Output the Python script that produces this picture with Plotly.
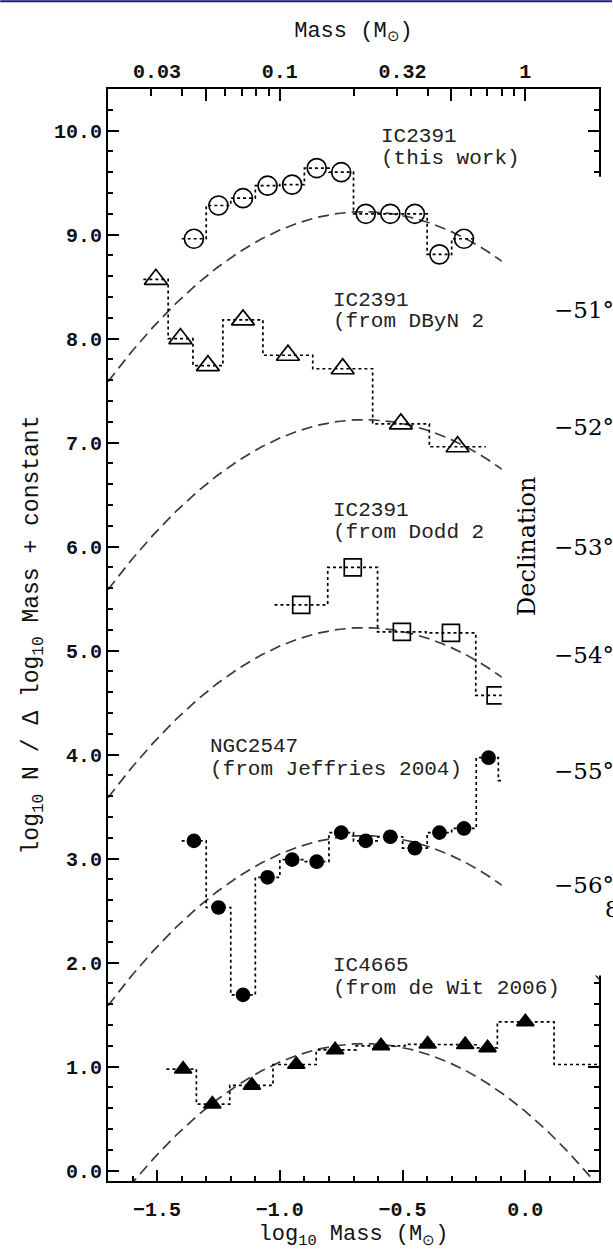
import numpy as np
import plotly.graph_objects as go

# ---------------- data (log10 Mass bins / log10 N per bin + constant) ----------------
# IC2391 (this work) - open circles
ic2391_edges = [-1.40, -1.30, -1.20, -1.10, -1.00, -0.90, -0.80, -0.70, -0.60, -0.50, -0.40, -0.30, -0.20]
ic2391_x = [-1.35, -1.25, -1.15, -1.05, -0.95, -0.85, -0.75, -0.65, -0.55, -0.45, -0.35, -0.25]
ic2391_y = [8.96, 9.28, 9.35, 9.47, 9.48, 9.64, 9.60, 9.20, 9.20, 9.20, 8.81, 8.96]

# IC2391 (from DByN 2004) - open triangles
dbyn_edges = [-1.556, -1.455, -1.354, -1.232, -1.069, -0.866, -0.622, -0.391, -0.161]
dbyn_x = [-1.505, -1.405, -1.293, -1.150, -0.967, -0.744, -0.507, -0.276]
dbyn_y = [8.57, 8.00, 7.74, 8.18, 7.84, 7.71, 7.18, 6.96]

# IC2391 (from Dodd 2004) - open squares
dodd_edges = [-1.022, -0.805, -0.602, -0.405, -0.202, -0.040]
dodd_x = [-0.913, -0.703, -0.503, -0.303, -0.121]
dodd_y = [5.44, 5.80, 5.18, 5.17, 4.57]

# NGC2547 (from Jeffries 2004) - filled circles
ngc_edges = [-1.40, -1.30, -1.20, -1.10, -1.00, -0.90, -0.80, -0.70, -0.60, -0.50, -0.40, -0.30, -0.20, -0.11, 0.00]
ngc_x = [-1.35, -1.25, -1.15, -1.05, -0.95, -0.85, -0.75, -0.65, -0.55, -0.45, -0.35, -0.25, -0.15, -0.05]
ngc_y = [3.17, 2.53, 1.69, 2.82, 2.99, 2.97, 3.25, 3.17, 3.21, 3.10, 3.25, 3.29, 3.97, 3.75]

# IC4665 (from de Wit 2006) - filled triangles
ic4665_edges = [-1.462, -1.340, -1.204, -1.028, -0.852, -0.689, -0.490, -0.320, -0.195, -0.114, 0.117, 0.600]
ic4665_x = [-1.394, -1.275, -1.114, -0.933, -0.775, -0.588, -0.398, -0.245, -0.154, 0.000, 0.360]
ic4665_y = [0.975, 0.64, 0.82, 1.02, 1.16, 1.20, 1.215, 1.21, 1.18, 1.43, 1.02]

# log-normal model curves (dashed), peak levels per cluster
model_peaks = [9.22, 7.22, 5.22, 3.22, 1.22]
model_mc = 0.22
model_sigma = 0.38

# axis ticks
y_ticks = [0, 1, 2, 3, 4, 5, 6, 7, 8, 9, 10]
x_ticks = [-1.5, -1.0, -0.5, 0.0]
top_label_logs = [-1.5, -1.0, -0.5, 0.0]
top_label_text = ["0.03", "0.1", "0.32", "1"]
top_major_mass = [0.05, 0.1, 0.5, 1.0]
top_minor_mass = [0.03, 0.04, 0.06, 0.07, 0.08, 0.09, 0.2, 0.3, 0.4, 0.6, 0.7, 0.8, 0.9]

# overlay (part of another figure pasted over the right side)
dec_labels = ["−51°", "−52°", "−53°", "−54°", "−55°", "−56°"]
dec_label_py = [311, 428, 548, 657, 773, 887]

# ---------------- geometry ----------------
W, H = 613, 1253
ML, MR, MT, MB = 108, 13, 89, 69
PW, PH = W - ML - MR, H - MT - MB
XR = [-1.7, 0.3]
YR = [-0.1, 10.4]


def px2paper(px, py):
    return (px - ML) / PW, (H - MB - py) / PH


MONO = "Liberation Mono"
SERIF = "DejaVu Serif"


def steps(edges, vals):
    xs, ys = [], []
    for i, v in enumerate(vals):
        xs += [edges[i], edges[i + 1]]
        ys += [v, v]
    return xs, ys


fig = go.Figure()

# model curves
xg = np.linspace(XR[0], XR[1], 300)
k = np.log10(np.e) / (2 * model_sigma ** 2)
for p in model_peaks:
    fig.add_trace(go.Scatter(
        x=xg, y=p - k * (xg - np.log10(model_mc)) ** 2, mode="lines",
        line=dict(color="#3a3a3a", width=1.7, dash="11px,6px"),
        showlegend=False, hoverinfo="skip"))

series = [
    (ic2391_edges, ic2391_x, ic2391_y, "circle-open", 19, "IC2391 (this work)"),
    (dbyn_edges, dbyn_x, dbyn_y, "triangle-up-open", 20, "IC2391 (from DByN 2004)"),
    (dodd_edges, dodd_x, dodd_y, "square-open", 17, "IC2391 (from Dodd 2004)"),
    (ngc_edges, ngc_x, ngc_y, "circle", 13, "NGC2547 (from Jeffries 2004)"),
    (ic4665_edges, ic4665_x, ic4665_y, "triangle-up", 15, "IC4665 (from de Wit 2006)"),
]
for edges, xs, ys, sym, size, name in series:
    sx, sy = steps(edges, ys)
    fig.add_trace(go.Scatter(
        x=sx, y=sy, mode="lines",
        line=dict(color="black", width=1.7, dash="3px,3px"),
        showlegend=False, hoverinfo="skip"))
    fig.add_trace(go.Scatter(
        x=xs, y=ys, mode="markers", name=name,
        marker=dict(symbol=sym, size=size, color="black",
                    line=dict(color="black", width=1.7)),
        showlegend=False))

# dummy traces so the top axes render
fig.add_trace(go.Scatter(x=[0.1], y=[None], xaxis="x2", yaxis="y", showlegend=False, hoverinfo="skip"))
fig.add_trace(go.Scatter(x=[0.1], y=[None], xaxis="x3", yaxis="y", showlegend=False, hoverinfo="skip"))

tickfont = dict(family=MONO, size=20, color="#111111", weight="bold")
titlefont = dict(family=MONO, size=22, color="#111111")

fig.update_layout(
    width=W, height=H,
    margin=dict(l=ML, r=MR, t=MT, b=MB),
    paper_bgcolor="white", plot_bgcolor="white",
    showlegend=False,
    xaxis=dict(
        range=XR, tickvals=x_ticks, tickformat=".1f",
        ticks="inside", ticklen=11, tickwidth=1.5, tickcolor="black",
        minor=dict(dtick=0.1, tick0=0, ticks="inside", ticklen=5, tickwidth=1.5, tickcolor="black"),
        showline=True, linewidth=2, linecolor="black", mirror=True,
        showgrid=False, zeroline=False, tickfont=tickfont, ticklabelstandoff=9,
        title=dict(text="log<sub>10</sub> Mass (M<sub>⊙</sub>)", font=titlefont, standoff=4),
    ),
    xaxis2=dict(
        overlaying="x", side="top", anchor="y", type="log",
        range=XR, tickvals=[10 ** v for v in top_label_logs], ticktext=top_label_text,
        ticks="", showline=False, showgrid=False, zeroline=False, tickfont=tickfont,
        ticklabelstandoff=6,
        title=dict(text="Mass (M<sub>⊙</sub>)", font=titlefont, standoff=17),
    ),
    xaxis3=dict(
        overlaying="x", side="top", anchor="y", type="log",
        range=XR, tickvals=top_major_mass, showticklabels=False,
        ticks="inside", ticklen=12, tickwidth=1.5, tickcolor="black",
        minor=dict(tickvals=top_minor_mass, ticks="inside", ticklen=7, tickwidth=1.5, tickcolor="black"),
        showline=False, showgrid=False, zeroline=False,
    ),
    yaxis=dict(
        range=YR, tickvals=y_ticks, tickformat=".1f",
        ticks="inside", ticklen=11, tickwidth=1.5, tickcolor="black",
        minor=dict(dtick=0.2, tick0=0, ticks="inside", ticklen=5, tickwidth=1.5, tickcolor="black"),
        showline=True, linewidth=2, linecolor="black", mirror="ticks",
        showgrid=False, zeroline=False, tickfont=tickfont,
        title=dict(text="log<sub>10</sub> N / Δ log<sub>10</sub> Mass + constant",
                   font=dict(family=MONO, size=23, color="#111111"), standoff=9),
    ),
)

# cluster labels
label_font = dict(family=MONO, size=21, color="#222222")
labels = [
    (-0.595, 9.94, "IC2391"), (-0.595, 9.73, "(this work)"),
    (-0.791, 8.37, "IC2391"), (-0.791, 8.16, "(from DByN 2"),
    (-0.791, 6.35, "IC2391"), (-0.791, 6.14, "(from Dodd 2"),
    (-1.293, 4.08, "NGC2547"), (-1.293, 3.86, "(from Jeffries 2004)"),
    (-0.791, 1.97, "IC4665"), (-0.791, 1.75, "(from de Wit 2006)"),
]
for lx, ly, t in labels:
    fig.add_annotation(x=lx, y=ly, xref="x", yref="y", text=t, showarrow=False,
                       xanchor="left", yanchor="middle", font=label_font)

# pasted overlay panel (white) with declination labels
ox0, oy1 = px2paper(502.5, 177)
ox1, oy0 = px2paper(W + 10, 978)
fig.add_shape(type="rect", xref="paper", yref="paper", x0=ox0, x1=ox1, y0=oy0, y1=oy1,
              fillcolor="white", line=dict(width=0), layer="above")
for t, py in zip(dec_labels, dec_label_py):
    ax, ay = px2paper(553, py)
    fig.add_annotation(x=ax, y=ay, xref="paper", yref="paper", text=t, showarrow=False,
                       xanchor="left", yanchor="middle",
                       font=dict(family=SERIF, size=23, color="black"))
ax, ay = px2paper(528, 548)
fig.add_annotation(x=ax, y=ay, xref="paper", yref="paper", text="Declination", showarrow=False,
                   textangle=-90, xanchor="center", yanchor="middle",
                   font=dict(family=SERIF, size=24, color="black"))
ax, ay = px2paper(604, 912)
fig.add_annotation(x=ax, y=ay, xref="paper", yref="paper", text="8", showarrow=False,
                   xanchor="left", yanchor="middle",
                   font=dict(family=SERIF, size=22, color="black"))

# thin navy rule at the very top of the page
tx0, ty1 = px2paper(0, 0)
tx1, ty0 = px2paper(W, 2)
fig.add_shape(type="rect", xref="paper", yref="paper", x0=tx0, x1=tx1, y0=ty0, y1=ty1,
              fillcolor="#1a1a80", line=dict(width=0), layer="above")

fig.write_html("out.html")
